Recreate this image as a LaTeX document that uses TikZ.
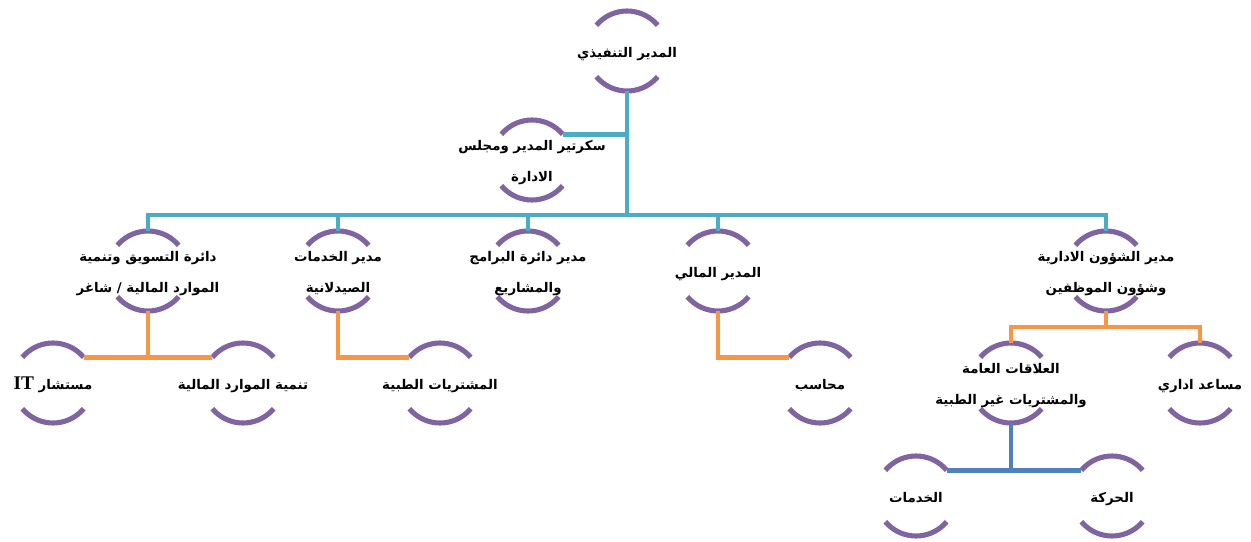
\documentclass[tikz,border=0pt]{standalone}
\usepackage{fontspec}
\usepackage{tikz}
\TeXXeTstate=1
\newfontfamily\arabicfont[Script=Arabic]{DejaVu Sans}
\newfontfamily\latinfont{Liberation Serif}
\definecolor{arcpurple}{HTML}{8064A2}
\definecolor{linkteal}{HTML}{4BACC6}
\definecolor{linkorange}{HTML}{F79646}
\definecolor{linkblue}{HTML}{4F81BD}
\newcommand{\rtl}[1]{\beginR #1\endR}
\newcommand{\unittext}[1]{\makebox[0pt]{\arabicfont\bfseries\fontsize{7.6}{17.6}\selectfont\begin{tabular}{@{}c@{}}#1\end{tabular}}}

\begin{document}
\begin{tikzpicture}[x=0.02cm, y=-0.02cm,
	unit/.style = {circle, draw=arcpurple, line width=2.9pt, minimum size=1.6cm, inner sep=0pt, outer sep=0pt,
		dash pattern=on 1.396cm off 1.117cm, dash phase=1.955cm},
	lvlone/.style = {draw=linkteal, line width=2.7pt},
	lvltwo/.style = {draw=linkorange, line width=2.7pt},
	lvlthree/.style = {draw=linkblue, line width=2.7pt}]
		\useasboundingbox (0,0) rectangle (1251,541);
		% top and secretary
		\node[unit] (ceo) at (627,51) {\unittext{\rtl{المدير التنفيذي}}};
		\node[unit] (sec) at (532,160) {\unittext{\rtl{سكرتير المدير ومجلس}\\ \rtl{الادارة}}};
		% departments
		\node[unit] (mkt) at (148,271) {\unittext{\rtl{دائرة التسويق وتنمية}\\ \rtl{الموارد المالية / شاغر}}};
		\node[unit] (pharm) at (338,271) {\unittext{\rtl{مدير الخدمات}\\ \rtl{الصيدلانية}}};
		\node[unit] (prog) at (528,271) {\unittext{\rtl{مدير دائرة البرامج}\\ \rtl{والمشاريع}}};
		\node[unit] (fin) at (718,271) {\unittext{\rtl{المدير المالي}}};
		\node[unit] (hr) at (1106,271) {\unittext{\rtl{مدير الشؤون الادارية}\\ \rtl{وشؤون الموظفين}}};
		% sections
		\node[unit] (itc) at (53,383) {\unittext{\rtl{مستشار \beginL{\latinfont\fontsize{11}{12}\selectfont IT}\endL}}};
		\node[unit] (fdev) at (243,383) {\unittext{\rtl{تنمية الموارد المالية}}};
		\node[unit] (medp) at (440,383) {\unittext{\rtl{المشتريات الطبية}}};
		\node[unit] (acct) at (820,383) {\unittext{\rtl{محاسب}}};
		\node[unit] (pr) at (1011,383) {\unittext{\rtl{العلاقات العامة}\\ \rtl{والمشتريات غير الطبية}}};
		\node[unit] (asst) at (1200,383) {\unittext{\rtl{مساعد اداري}}};
		\node[unit] (srv) at (916,496) {\unittext{\rtl{الخدمات}}};
		\node[unit] (mov) at (1112,496) {\unittext{\rtl{الحركة}}};
		\coordinate (bus) at (627,215);
		\coordinate (hrj) at (1106,327);
		% links
		\draw[lvlone] (ceo.south) -- (bus);
		\draw[lvlone] (sec.40) -- (sec.40 -| bus);
		\draw[lvlone] (bus) -| (mkt.north);
		\draw[lvlone] (bus) -| (pharm.north);
		\draw[lvlone] (bus) -| (prog.north);
		\draw[lvlone] (bus) -| (fin.north);
		\draw[lvlone] (bus) -| (hr.north);
		\draw[lvltwo] (itc.40) -- (fdev.140);
		\draw[lvltwo] (mkt.south) -- (mkt.south |- itc.40);
		\draw[lvltwo] (pharm.south) |- (medp.140);
		\draw[lvltwo] (fin.south) |- (acct.140);
		\draw[lvltwo] (hr.south) -- (hrj);
		\draw[lvltwo] (pr.north) |- (hrj) -| (asst.north);
		\draw[lvlthree] (srv.40) -- (mov.140);
		\draw[lvlthree] (pr.south) -- (pr.south |- srv.40);
	\end{tikzpicture}
\end{document}
